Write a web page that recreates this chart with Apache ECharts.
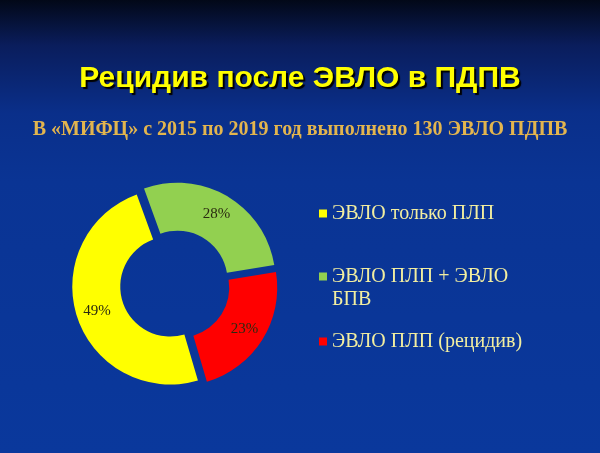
<!DOCTYPE html>
<html>
<head>
<meta charset="utf-8">
<script src="https://cdn.jsdelivr.net/npm/echarts@6/dist/echarts.min.js"></script>
<style>
html,body{margin:0;padding:0;background:#0a3494;}
#chart{width:600px;height:453px;}
</style>
</head>
<body>
<div id="chart"></div>
<script>
// Data (clockwise order starting from top-left)
const categories = ['ЭВЛО ПЛП + ЭВЛО\nБПВ', 'ЭВЛО ПЛП (рецидив)', 'ЭВЛО только ПЛП'];
const values = [28, 23, 49];
const colors = ['#92d050', '#ff0000', '#ffff00'];
const legendOrder = ['ЭВЛО только ПЛП', 'ЭВЛО ПЛП + ЭВЛО\nБПВ', 'ЭВЛО ПЛП (рецидив)'];
const legendTops = [197, 237, 325];
const titleText = 'Рецидив после ЭВЛО в ПДПВ';
const subtitleText = 'В «МИФЦ» с 2015 по 2019 год выполнено 130 ЭВЛО ПДПВ';

const chart = echarts.init(document.getElementById('chart'));
const legends = legendOrder.map((name, i) => ({
  data: [name],
  left: 314,
  top: legendTops[i],
  orient: 'vertical',
  icon: 'rect',
  itemWidth: 8,
  itemHeight: 8,
  itemGap: 0,
  selectedMode: false,
  // keep the marker level with the first line of a wrapped name
  formatter: n => n.indexOf('\n') >= 0 ? ' \n' + n : n,
  textStyle: {
    color: '#f2eea0',
    fontFamily: '"Liberation Serif", "DejaVu Serif", serif',
    fontSize: 20,
    lineHeight: 23
  }
}));

chart.setOption({
  backgroundColor: {
    type: 'linear', x: 0, y: 0, x2: 0, y2: 1,
    colorStops: [
      { offset: 0, color: '#020818' },
      { offset: 0.1, color: '#0a1d5c' },
      { offset: 0.25, color: '#0a2f8a' },
      { offset: 0.4, color: '#0a3494' },
      { offset: 1, color: '#0a389c' }
    ]
  },
  title: [
    {
      text: titleText,
      left: 'center',
      top: 59,
      textStyle: {
        color: '#ffff00',
        fontFamily: '"Liberation Sans", Arial, sans-serif',
        fontWeight: 'bold',
        fontSize: 30,
        textShadowColor: '#000000',
        textShadowOffsetX: 2,
        textShadowOffsetY: 2,
        textShadowBlur: 1
      }
    },
    {
      text: subtitleText,
      left: 'center',
      top: 115,
      textStyle: {
        color: '#e3b54e',
        fontFamily: '"Liberation Serif", "DejaVu Serif", serif',
        fontWeight: 'bold',
        fontSize: 20,
        textShadowColor: 'rgba(0,0,0,0.6)',
        textShadowOffsetX: 1,
        textShadowOffsetY: 1
      }
    }
  ],
  legend: legends,
  series: [{
    type: 'pie',
    center: [175, 285],
    radius: [50, 98],
    startAngle: 110,
    clockwise: true,
    selectedMode: 'multiple',
    selectedOffset: 5,
    animation: false,
    silent: true,
    label: {
      show: true,
      position: 'inside',
      formatter: '{c}%',
      color: '#2a2a10',
      fontFamily: '"Liberation Serif", "DejaVu Serif", serif',
      fontSize: 15
    },
    labelLine: { show: false },
    emphasis: { disabled: true },
    data: categories.map((name, i) => ({
      name: name,
      value: values[i],
      selected: true,
      itemStyle: { color: colors[i] }
    }))
  }]
});
</script>
</body>
</html>
